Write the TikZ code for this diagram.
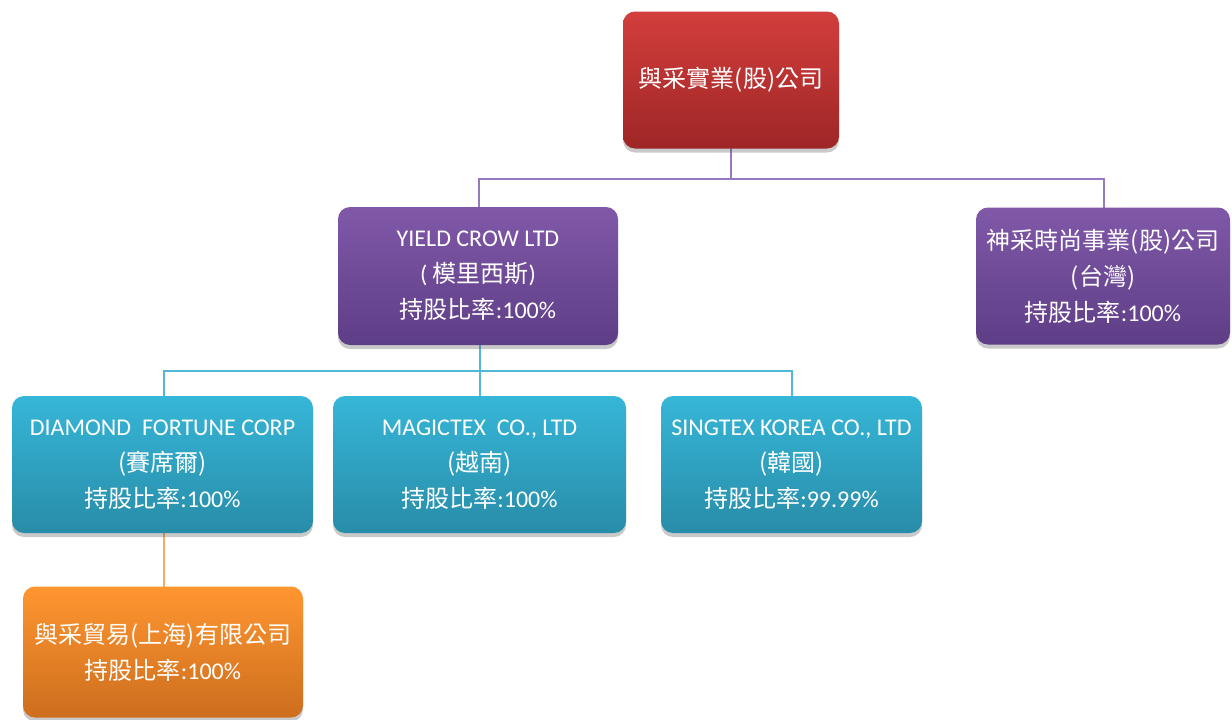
\documentclass[tikz,border=0pt]{standalone}
\usepackage{fontspec}
\setmainfont{Carlito}
\newfontfamily\cjk{Noto Sans CJK TC}
\usetikzlibrary{shadows}
\definecolor{redtop}{RGB}{210,62,60}
\definecolor{redbot}{RGB}{158,38,38}
\definecolor{purtop}{RGB}{128,88,168}
\definecolor{purbot}{RGB}{94,62,134}
\definecolor{blutop}{RGB}{54,182,216}
\definecolor{blubot}{RGB}{40,140,168}
\definecolor{oratop}{RGB}{255,150,48}
\definecolor{orabot}{RGB}{205,110,30}
\definecolor{purline}{RGB}{150,120,190}
\definecolor{bluline}{RGB}{80,185,215}
\definecolor{oraline}{RGB}{248,170,100}
\begin{document}
\begin{tikzpicture}[x=1pt,y=-1pt,
  box/.style={rounded corners=12pt, align=center, text=white, inner sep=0pt,
    font=\fontsize{24}{36}\selectfont,
    drop shadow={shadow xshift=0pt, shadow yshift=-4pt, opacity=0.3, fill=black!70}},
  redbox/.style={box, top color=redtop, bottom color=redbot},
  purbox/.style={box, top color=purtop, bottom color=purbot},
  blubox/.style={box, top color=blutop, bottom color=blubot},
  orabox/.style={box, top color=oratop, bottom color=orabot},
  conn/.style={line width=2pt}]
\useasboundingbox (0,0) rectangle (1232,720);

% connectors
\coordinate (j1) at (731,179);
\coordinate (j2) at (480,371);
\draw[conn, purline] (731,148) -- (j1);
\draw[conn, purline] (j1) -| (479,208);
\draw[conn, purline] (j1) -| (1104,208);
\draw[conn, bluline] (480,345) -- (j2);
\draw[conn, bluline] (j2) -| (164,396);
\draw[conn, bluline] (j2) -- (480,396);
\draw[conn, bluline] (j2) -| (792,396);
\draw[conn, oraline] (164,533) -- (164,588);

\node[redbox, minimum width=216, minimum height=137] (top) at (731,80)
  {\fontsize{24}{36}\selectfont\cjk 與采實業(股)公司};
\node[purbox, minimum width=280, minimum height=138] (yield) at (478,276)
  {YIELD CROW LTD\\( {\cjk 模里西斯})\\{\cjk 持股比率}:100\%};
\node[purbox, minimum width=254, minimum height=137] (shen) at (1103,276)
  {{\cjk 神采時尚事業(股)公司}\\{\cjk (台灣)}\\{\cjk 持股比率}:100\%};
\node[blubox, minimum width=301, minimum height=137] (diamond) at (162.5,464.5)
  {DIAMOND\ \ FORTUNE CORP\\{\cjk (賽席爾)}\\{\cjk 持股比率}:100\%};
\node[blubox, minimum width=293, minimum height=137] (magic) at (479.5,464.5)
  {MAGICTEX\ \ CO., LTD\\{\cjk (越南)}\\{\cjk 持股比率}:100\%};
\node[blubox, minimum width=261, minimum height=137] (singtex) at (791.5,464.5)
  {SINGTEX KOREA CO., LTD\\{\cjk (韓國)}\\{\cjk 持股比率}:99.99\%};
\node[orabox, minimum width=280, minimum height=131] (trade) at (163,652)
  {{\cjk 與采貿易(上海)有限公司}\\{\cjk 持股比率}:100\%};
\end{tikzpicture}
\end{document}
